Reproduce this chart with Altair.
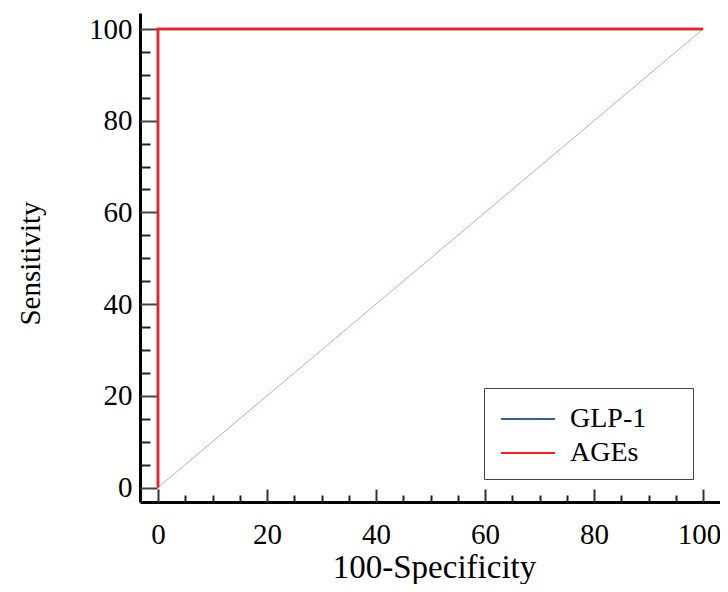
import altair as alt
import pandas as pd

FONT = "Liberation Serif"

# ---- data ----
series = ["GLP-1", "AGEs"]
series_colors = ["#2f63a6", "#ff1a1a"]
roc_fpr = [0, 0, 100]
roc_tpr = [0, 100, 100]
diag_fpr = [0, 100]
diag_tpr = [0, 100]
major_ticks = [0, 20, 40, 60, 80, 100]
minor_ticks = [5, 10, 15, 25, 30, 35, 45, 50, 55, 65, 70, 75, 85, 90, 95]

rows = []
for s in series:
    for i, (fx, ty) in enumerate(zip(roc_fpr, roc_tpr)):
        rows.append({"series": s, "fpr": fx, "tpr": ty, "idx": i})
roc = pd.DataFrame(rows)
diag = pd.DataFrame({"fpr": diag_fpr, "tpr": diag_tpr})

W, H = 580, 489
xscale = alt.Scale(domain=[-3.3, 103.1], nice=False, zero=False)
yscale = alt.Scale(domain=[-3.16, 103.49], nice=False, zero=False)

diag_layer = alt.Chart(diag).mark_line(strokeWidth=1, color="#d3a3a3").encode(
    x=alt.X("fpr:Q", scale=xscale,
            axis=alt.Axis(orient="top", offset=-H, values=minor_ticks, tickSize=7,
                          tickWidth=2, tickColor="#222", labels=False, domain=False,
                          grid=False, title=None)),
    y=alt.Y("tpr:Q", scale=yscale,
            axis=alt.Axis(orient="right", offset=-W, values=minor_ticks, tickSize=10,
                          tickWidth=2, tickColor="#222", labels=False, domain=False,
                          grid=False, title=None)),
)

lines = alt.Chart(roc).mark_line(strokeWidth=2.5).encode(
    x=alt.X("fpr:Q", scale=xscale,
            axis=alt.Axis(orient="bottom", values=major_ticks, ticks=False, tickSize=0,
                          labelPadding=18, domainColor="black", domainWidth=3,
                          labelFont=FONT, labelFontSize=29, labelColor="black",
                          labelFlush=False, grid=False,
                          labelOffset={"condition": {"test": "datum.value == 100", "value": -4},
                                       "value": 0},
                          title="100-Specificity", titleFont=FONT, titleFontSize=33,
                          titleFontWeight="normal", titleColor="black",
                          titleX=W / 2 + 4, titleY=75, titleAlign="center",
                          titleBaseline="alphabetic")),
    y=alt.Y("tpr:Q", scale=yscale,
            axis=alt.Axis(orient="left", values=major_ticks, ticks=False, tickSize=0,
                          labelPadding=8, domainColor="black", domainWidth=3,
                          labelFont=FONT, labelFontSize=29, labelColor="black",
                          labelFlush=False, grid=False,
                          title="Sensitivity", titleFont=FONT, titleFontSize=29,
                          titleFontWeight="normal", titleColor="black",
                          titleAngle=270, titleX=-101, titleY=250, titleAlign="center",
                          titleBaseline="alphabetic")),
    color=alt.Color("series:N", scale=alt.Scale(domain=series, range=series_colors),
                    legend=alt.Legend(orient="none", legendX=344, legendY=375, title=None,
                                      symbolType="M-1.5,0H1.5M8.23,0h0", symbolSize=1296,
                                      symbolStrokeWidth=2, symbolOffset=13, padding=12,
                                      labelOffset=23, rowPadding=1, labelFont=FONT,
                                      labelFontSize=28, labelColor="black",
                                      strokeColor="#444", fillColor="white")),
    order="idx:O",
)

major_layer = alt.Chart(diag).mark_point(opacity=0).encode(
    x=alt.X("fpr:Q", scale=xscale,
            axis=alt.Axis(orient="top", offset=-H, values=major_ticks, tickSize=13,
                          tickWidth=2, tickColor="#333", labels=False, domain=False,
                          grid=False, title=None)),
    y=alt.Y("tpr:Q", scale=yscale,
            axis=alt.Axis(orient="right", offset=-W, values=major_ticks, tickSize=17,
                          tickWidth=2, tickColor="#444", labels=False, domain=False,
                          grid=False, title=None)),
)

chart = alt.layer(diag_layer, lines, major_layer).resolve_axis(
    x="independent", y="independent"
).properties(
    width=W, height=H,
    autosize=alt.AutoSizeParams(type="none"),
    padding={"left": 132, "top": 5, "right": 0, "bottom": 82},
).configure_view(stroke=None)

chart.save("out.html", embed_options={"renderer": "svg", "actions": False})
